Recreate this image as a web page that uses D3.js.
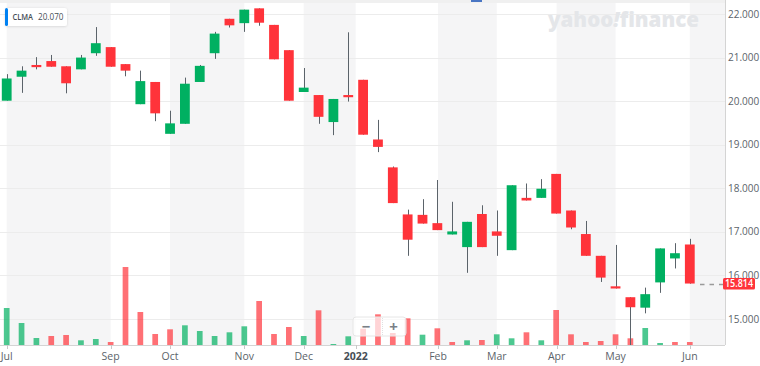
<!DOCTYPE html>
<html>
<head>
<meta charset="utf-8">
<script src="https://cdn.jsdelivr.net/npm/d3@7/dist/d3.min.js"></script>
<style>
  html, body { margin: 0; padding: 0; background: #fff; }
  svg { display: block; font-family: "Open Sans", "Noto Sans", sans-serif; }
</style>
</head>
<body>
<svg id="chart" width="760" height="366"></svg>
<script>
// ---- Data (weekly candles, CLMA) ----
const opens  = [20.01,20.56,20.83,20.92,20.80,20.73,21.10,21.24,20.85,19.93,20.44,19.25,19.48,20.44,21.10,21.89,21.79,22.13,21.75,21.17,20.21,20.14,19.52,20.14,20.49,19.12,18.48,17.40,17.39,17.20,16.94,16.65,17.41,17.01,16.58,17.78,17.78,18.33,17.49,16.95,16.45,15.75,15.50,15.26,15.84,16.39,16.71];
const highs  = [20.62,20.80,21.01,21.06,20.80,21.06,21.70,21.24,20.85,20.70,20.44,19.78,20.54,20.83,21.59,21.89,22.10,22.13,21.75,21.17,20.76,20.14,20.05,21.58,20.49,19.57,18.50,17.51,17.75,18.19,17.69,17.23,17.61,17.49,18.07,18.11,18.21,18.33,17.49,17.25,16.45,16.70,15.50,15.72,16.62,16.74,16.84];
const lows   = [20.01,20.19,20.73,20.79,20.18,20.73,21.04,20.79,20.57,19.93,19.54,19.25,19.48,20.44,20.97,21.69,21.59,21.73,20.96,20.01,20.21,19.48,19.22,19.99,19.23,18.83,17.66,16.45,17.19,17.04,16.94,16.06,16.65,16.45,16.58,17.72,17.78,17.42,17.06,16.45,15.85,15.70,14.40,15.13,15.60,16.16,15.81];
const closes = [20.52,20.70,20.78,20.79,20.41,21.00,21.33,20.79,20.70,20.46,19.72,19.49,20.40,20.81,21.55,21.74,22.10,21.80,20.96,20.01,20.31,19.64,20.05,20.09,19.23,18.95,17.66,16.82,17.19,17.04,17.01,17.23,16.65,16.91,18.07,17.72,17.99,17.42,17.10,16.45,15.95,15.70,15.27,15.57,16.62,16.51,15.814];
const volumes = [3700,2200,700,900,1000,470,600,300,7800,3300,1100,1570,1970,1400,900,1270,1870,4400,1100,1800,900,3470,100,870,1630,3070,1200,2670,1030,1670,300,470,500,1070,670,1270,470,3500,1070,300,400,1070,670,1700,200,300,300];
const volumeDir = ["up","up","up","down","down","up","up","down","down","down","down","down","up","up","up","up","up","down","down","down","up","down","up","up","down","down","down","down","up","down","down","up","down","up","up","down","up","down","down","down","down","down","down","up","up","down","down"];
const priceTicks = [15,16,17,18,19,20,21,22];
const monthLabels = ["Jul","Sep","Oct","Nov","Dec","2022","Feb","Mar","Apr","May","Jun"];
const monthTickIdx = [0,7,11,16,20,23.5,29.05,33,37.03,41,46];
const symbol = "CLMA";
const symbolValue = "20.070";
const lastPrice = 15.814;

// ---- Layout ----
const W = 760, H = 366;
const plotRight = 725, plotTop = 3, plotBottom = 345;
const UP = "#00b061", DOWN = "#ff333a";

const svg = d3.select("#chart");
const n = opens.length;
const x = d3.scaleLinear().domain([0, n - 1]).range([6.7, 689.8]);
const y = d3.scaleLinear().domain([15, 22]).range([319, 14]);
const yv = d3.scaleLinear().domain([0, 10000]).range([plotBottom, plotBottom - 100]);

// top stripe
svg.append("rect").attr("x", 0).attr("y", 0).attr("width", plotRight).attr("height", 3).attr("fill", "#f0f0f0");

// alternating month bands
const bandEdges = monthTickIdx.map(d => x(d)).concat([plotRight]);
for (let k = 0; k < bandEdges.length - 1; k++) {
  if (k % 2 === 0) {
    svg.append("rect")
      .attr("x", bandEdges[k]).attr("y", plotTop)
      .attr("width", bandEdges[k + 1] - bandEdges[k])
      .attr("height", plotBottom - plotTop)
      .attr("fill", "#f5f5f6");
  }
}

// horizontal grid
svg.append("g").selectAll("line").data(priceTicks).join("line")
  .attr("x1", 0).attr("x2", plotRight)
  .attr("y1", d => Math.round(y(d)) + 0.5).attr("y2", d => Math.round(y(d)) + 0.5)
  .attr("stroke", "#ececec").attr("stroke-width", 1);

// watermark
const wm = svg.append("text")
  .attr("x", 548).attr("y", 27)
  .attr("font-size", 21).attr("font-weight", 800)
  .attr("fill", "#e4e6e9")
  .attr("textLength", 151).attr("lengthAdjust", "spacingAndGlyphs");
wm.append("tspan").text("yahoo");
wm.append("tspan").attr("font-style", "italic").text("!");
wm.append("tspan").text("finance");

// small nav marker at top
svg.append("rect").attr("x", 471).attr("y", 0).attr("width", 11).attr("height", 2).attr("fill", "#4a76c4");

// volume bars
svg.append("g").selectAll("rect").data(volumes).join("rect")
  .attr("x", (d, i) => x(i) - 2.85)
  .attr("width", 5.7)
  .attr("y", d => yv(d))
  .attr("height", d => plotBottom - yv(d))
  .attr("fill", (d, i) => volumeDir[i] === "up" ? UP : DOWN)
  .attr("fill-opacity", 0.7);

// candles
const idx = d3.range(n);
const cg = svg.append("g");
cg.selectAll("line").data(idx).join("line")
  .attr("x1", i => Math.round(x(i)) + 0.5).attr("x2", i => Math.round(x(i)) + 0.5)
  .attr("y1", i => y(highs[i])).attr("y2", i => y(lows[i]))
  .attr("stroke", "#5b636a").attr("stroke-width", 1);
cg.selectAll("rect").data(idx).join("rect")
  .attr("x", i => x(i) - 4.9)
  .attr("width", 9.8)
  .attr("y", i => y(Math.max(opens[i], closes[i])))
  .attr("height", i => Math.max(1.5, Math.abs(y(opens[i]) - y(closes[i]))))
  .attr("fill", i => closes[i] >= opens[i] ? UP : DOWN);

// x axis
svg.append("line").attr("x1", 0).attr("x2", plotRight)
  .attr("y1", plotBottom + 0.5).attr("y2", plotBottom + 0.5)
  .attr("stroke", "#d4d4d4");
const xt = svg.append("g");
xt.selectAll("line").data(monthTickIdx).join("line")
  .attr("x1", d => Math.round(x(d)) + 0.5).attr("x2", d => Math.round(x(d)) + 0.5)
  .attr("y1", plotBottom).attr("y2", plotBottom + 4)
  .attr("stroke", "#c8c8c8");
xt.selectAll("text").data(monthLabels).join("text")
  .attr("x", (d, i) => x(monthTickIdx[i]))
  .attr("y", 359.5)
  .attr("text-anchor", "middle")
  .attr("font-size", 10.5)
  .attr("font-weight", d => d === "2022" ? 700 : 400)
  .attr("fill", d => d === "2022" ? "#464e56" : "#5b636a")
  .text(d => d);

// right axis
svg.append("line").attr("x1", plotRight + 0.5).attr("x2", plotRight + 0.5)
  .attr("y1", 0).attr("y2", plotBottom)
  .attr("stroke", "#d4d4d4");
svg.append("g").selectAll("text").data(priceTicks).join("text")
  .attr("x", 728).attr("y", d => y(d))
  .attr("dy", "0.35em")
  .attr("font-size", 10)
  .attr("fill", "#5b636a")
  .text(d => d3.format(".3f")(d));

// last price line and label
svg.append("line").attr("x1", 700).attr("x2", 723)
  .attr("y1", Math.round(y(lastPrice)) + 0.5).attr("y2", Math.round(y(lastPrice)) + 0.5)
  .attr("stroke", "#9a9a9a").attr("stroke-width", 1.3).attr("stroke-dasharray", "4.5,5");
svg.append("rect").attr("x", 723).attr("y", y(lastPrice) - 5.5).attr("width", 32).attr("height", 11.5)
  .attr("rx", 1.5).attr("fill", DOWN);
svg.append("text").attr("x", 739).attr("y", y(lastPrice)).attr("dy", "0.35em")
  .attr("text-anchor", "middle").attr("font-size", 10).attr("font-weight", 600)
  .attr("fill", "#fff").attr("textLength", 28).attr("lengthAdjust", "spacingAndGlyphs")
  .text(d3.format(".3f")(lastPrice));

// symbol label box
const defs = svg.append("defs");
const f = defs.append("filter").attr("id", "sh").attr("x", "-20%").attr("y", "-40%").attr("width", "140%").attr("height", "180%");
f.append("feDropShadow").attr("dx", 0).attr("dy", 0.5).attr("stdDeviation", 1).attr("flood-color", "#000").attr("flood-opacity", 0.15);
svg.append("rect").attr("x", 5).attr("y", 8).attr("width", 62).attr("height", 18).attr("rx", 2.5)
  .attr("fill", "#fff").attr("filter", "url(#sh)");
svg.append("rect").attr("x", 5).attr("y", 8).attr("width", 3).attr("height", 18).attr("rx", 1.5).attr("fill", "#0081f2");
svg.append("text").attr("x", 12.5).attr("y", 17).attr("dy", "0.35em")
  .attr("font-size", 9).attr("font-weight", 600).attr("fill", "#464e56")
  .attr("textLength", 20.5).attr("lengthAdjust", "spacingAndGlyphs").text(symbol);
svg.append("text").attr("x", 38).attr("y", 17).attr("dy", "0.35em")
  .attr("font-size", 9).attr("fill", "#464e56")
  .attr("textLength", 25.5).attr("lengthAdjust", "spacingAndGlyphs").text(symbolValue);

// zoom control
const zc = svg.append("g");
zc.append("rect").attr("x", 353).attr("y", 317).attr("width", 53).attr("height", 19).attr("rx", 3)
  .attr("fill", "#fff").attr("fill-opacity", 0.7).attr("stroke", "#e6e6e6");
zc.append("line").attr("x1", 382.5).attr("x2", 382.5).attr("y1", 318).attr("y2", 335)
  .attr("stroke", "#e0e0e0").attr("stroke-dasharray", "1,1");
zc.append("text").attr("x", 366).attr("y", 326.5).attr("dy", "0.35em").attr("text-anchor", "middle")
  .attr("font-size", 15).attr("font-weight", 700).attr("fill", "#7a8087").text("−");
zc.append("text").attr("x", 393.5).attr("y", 326.5).attr("dy", "0.35em").attr("text-anchor", "middle")
  .attr("font-size", 15).attr("font-weight", 700).attr("fill", "#7a8087").text("+");
</script>
</body>
</html>
